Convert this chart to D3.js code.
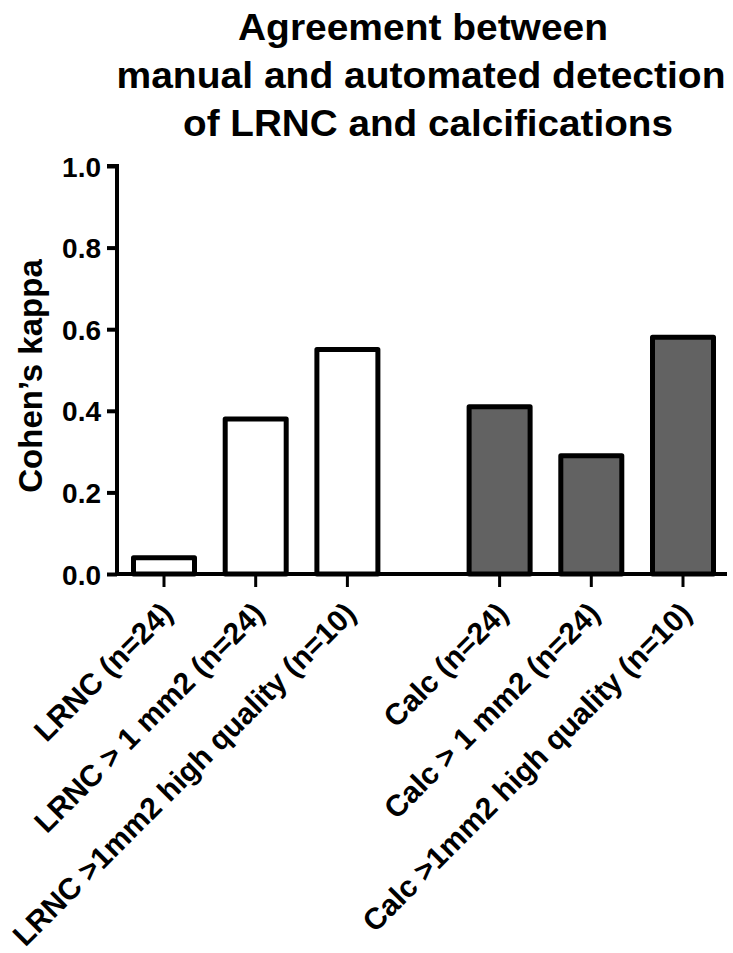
<!DOCTYPE html>
<html>
<head>
<meta charset="utf-8">
<script src="https://cdnjs.cloudflare.com/ajax/libs/d3/7.8.5/d3.min.js"></script>
<style>
  html, body { margin: 0; padding: 0; background: #fff; }
  svg { display: block; }
  text { font-family: "Liberation Sans", Arial, Helvetica, sans-serif; font-weight: bold; fill: #000; }
</style>
</head>
<body>
<div id="chart"></div>
<script>
// ---- data ----
const categories = [
  "LRNC (n=24)",
  "LRNC > 1 mm2 (n=24)",
  "LRNC >1mm2 high quality (n=10)",
  "Calc (n=24)",
  "Calc > 1 mm2 (n=24)",
  "Calc >1mm2 high quality (n=10)"
];
const groups = [0, 0, 0, 1, 1, 1];
const kappa = [0.04, 0.38, 0.55, 0.41, 0.29, 0.58];
const yTicks = [0, 0.2, 0.4, 0.6, 0.8, 1.0];
const titleLines = ["Agreement between", "manual and automated detection", "of LRNC and calcifications"];
const yLabel = "Cohen\u2019s kappa";
const groupFills = ["#ffffff", "#626262"];

// ---- layout ----
const W = 733, H = 953;
const axisX = 117, axisY = 574, topY = 166, rightX = 727;
const groupGap = 0.66;

const svg = d3.select("#chart").append("svg").attr("width", W).attr("height", H);

const slot = categories.map((c, i) => i + groups[i] * groupGap);
const x = d3.scaleLinear().domain([0, d3.max(slot)]).range([164, 683]);
const y = d3.scaleLinear().domain([0, 1]).range([axisY, topY]);
const barW = 61;

// title
const titleX = [423, 421, 428];
const titleY = [40, 88, 136];
const titleLen = [370, 609, 490];
svg.append("g").selectAll("text").data(titleLines).join("text")
  .attr("x", (d, i) => titleX[i]).attr("y", (d, i) => titleY[i])
  .attr("text-anchor", "middle").attr("font-size", 37)
  .attr("textLength", (d, i) => titleLen[i]).attr("lengthAdjust", "spacingAndGlyphs")
  .text(d => d);

// bars
svg.append("g").selectAll("rect").data(kappa).join("rect")
  .attr("x", (d, i) => x(slot[i]) - barW / 2)
  .attr("y", d => y(d))
  .attr("width", barW)
  .attr("height", d => y(0) - y(d))
  .attr("fill", (d, i) => groupFills[groups[i]])
  .attr("stroke", "#000").attr("stroke-width", 5).attr("stroke-linejoin", "round");

// y axis
const yAxis = d3.axisLeft(y).tickValues(yTicks).tickFormat(d3.format(".1f")).tickSize(10).tickPadding(6);
const gy = svg.append("g").attr("transform", `translate(${axisX},0)`).call(yAxis);
gy.attr("font-family", null);
gy.select(".domain").attr("stroke-width", 4).attr("d", `M-10,${y(1)}H0V${axisY + 2}`);
gy.selectAll(".tick line").attr("stroke-width", 4);
gy.selectAll(".tick text").attr("font-size", 28).attr("dy", "0.36em");

// x axis
const xAxisG = svg.append("g").attr("transform", `translate(0,${axisY})`);
xAxisG.append("line").attr("x1", axisX - 2).attr("x2", rightX).attr("y1", 0).attr("y2", 0)
  .attr("stroke", "#000").attr("stroke-width", 4);
xAxisG.selectAll("line.tk").data(categories).join("line").attr("class", "tk")
  .attr("x1", (d, i) => x(slot[i])).attr("x2", (d, i) => x(slot[i]))
  .attr("y1", 0).attr("y2", 13).attr("stroke", "#000").attr("stroke-width", 3);
xAxisG.selectAll("text").data(categories).join("text")
  .attr("transform", (d, i) => `translate(${x(slot[i]) - 5},${26}) rotate(-45)`)
  .attr("text-anchor", "end").attr("dy", "0.72em").attr("font-size", 30).text(d => d);

// y label
svg.append("text").attr("transform", `translate(42,376) rotate(-90)`)
  .attr("text-anchor", "middle").attr("font-size", 33).text(yLabel);
</script>
</body>
</html>
